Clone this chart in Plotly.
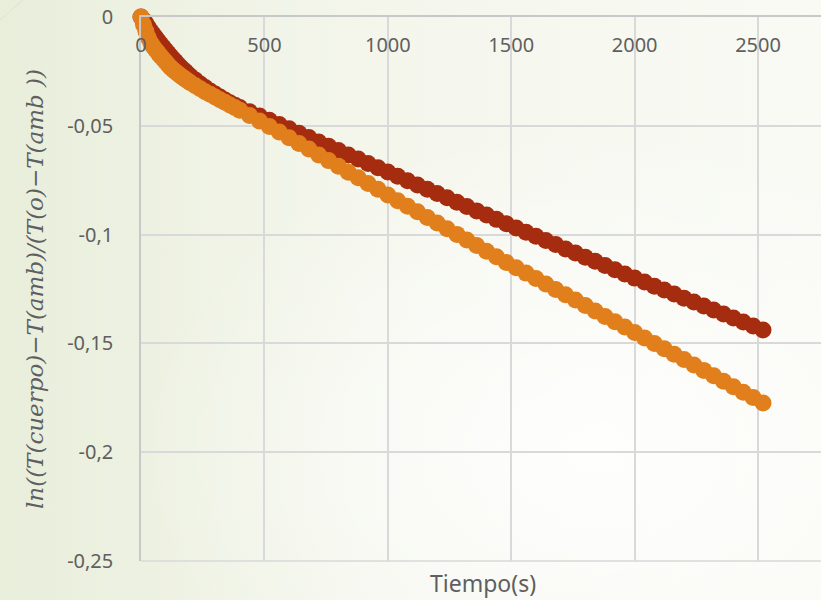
import base64
import plotly.graph_objects as go

# ---- data ----
tiempo = [0, 10, 20, 30, 40, 50, 60, 70, 80, 90, 100, 110, 120, 130, 140, 150, 160,
          170, 180, 190, 200, 220, 240, 260, 280, 300, 320, 340, 360, 380, 400, 440,
          480, 520, 560, 600, 640, 680, 720, 760, 800, 840, 880, 920, 960, 1000,
          1040, 1080, 1120, 1160, 1200, 1240, 1280, 1320, 1360, 1400, 1440, 1480,
          1520, 1560, 1600, 1640, 1680, 1720, 1760, 1800, 1840, 1880, 1920, 1960,
          2000, 2040, 2080, 2120, 2160, 2200, 2240, 2280, 2320, 2360, 2400, 2440,
          2480, 2520]

serie_oscura = [0, -0.0015, -0.0030, -0.0048, -0.0065, -0.0080, -0.0095, -0.0110,
                -0.0125, -0.0139, -0.0153, -0.0167, -0.0180, -0.0193, -0.0205,
                -0.0218, -0.0230, -0.0241, -0.0251, -0.0262, -0.0272, -0.0290,
                -0.0308, -0.0324, -0.0340, -0.0354, -0.0368, -0.0381, -0.0394,
                -0.0405, -0.0416, -0.0436, -0.0455, -0.0474, -0.0494, -0.0514,
                -0.0534, -0.0554, -0.0574, -0.0594, -0.0614, -0.0634, -0.0653,
                -0.0673, -0.0693, -0.0712, -0.0732, -0.0752, -0.0772, -0.0792,
                -0.0811, -0.0831, -0.0851, -0.0871, -0.0891, -0.0910, -0.0930,
                -0.0950, -0.0970, -0.0989, -0.1008, -0.1027, -0.1046, -0.1066,
                -0.1085, -0.1104, -0.1123, -0.1142, -0.1162, -0.1181, -0.1200,
                -0.1218, -0.1237, -0.1255, -0.1273, -0.1292, -0.1310, -0.1328,
                -0.1347, -0.1365, -0.1383, -0.1402, -0.1420, -0.1438]

serie_naranja = [0, -0.0035, -0.0065, -0.0095, -0.0120, -0.0137, -0.0152, -0.0166,
                 -0.0180, -0.0193, -0.0206, -0.0219, -0.0232, -0.0242, -0.0252,
                 -0.0261, -0.0270, -0.0278, -0.0286, -0.0294, -0.0302, -0.0316,
                 -0.0330, -0.0343, -0.0355, -0.0368, -0.0380, -0.0392, -0.0404,
                 -0.0416, -0.0428, -0.0453, -0.0478, -0.0503, -0.0529, -0.0555,
                 -0.0581, -0.0607, -0.0634, -0.0660, -0.0686, -0.0713, -0.0739,
                 -0.0765, -0.0792, -0.0818, -0.0844, -0.0870, -0.0895, -0.0921,
                 -0.0947, -0.0973, -0.0999, -0.1025, -0.1050, -0.1076, -0.1102,
                 -0.1128, -0.1152, -0.1177, -0.1202, -0.1227, -0.1252, -0.1276,
                 -0.1301, -0.1326, -0.1351, -0.1376, -0.1400, -0.1425, -0.1450,
                 -0.1475, -0.1500, -0.1525, -0.1550, -0.1574, -0.1599, -0.1624,
                 -0.1649, -0.1674, -0.1699, -0.1724, -0.1749, -0.1774]

x_ticks = [0, 500, 1000, 1500, 2000, 2500]
x_tick_labels = ["0", "500", "1000", "1500", "2000", "2500"]
y_ticks = [0, -0.05, -0.1, -0.15, -0.2, -0.25]
y_tick_labels = ["0", "-0,05", "-0,1", "-0,15", "-0,2", "-0,25"]

x_title = "Tiempo(s)"
y_title = "<i>ln((T(cuerpo)−T(amb)/(T(o)−T(amb ))</i>"

# ---- background (soft green gradient) ----
svg = """<svg xmlns='http://www.w3.org/2000/svg' width='821' height='600' viewBox='0 0 821 600'>
<defs>
<linearGradient id='g' x1='0' y1='0' x2='1' y2='0'>
<stop offset='0' stop-color='#e9eedb'/>
<stop offset='0.45' stop-color='#f4f6ec'/>
<stop offset='1' stop-color='#f9faf4'/>
</linearGradient>
<radialGradient id='r' cx='0.72' cy='0.75' r='0.55'>
<stop offset='0' stop-color='#ffffff' stop-opacity='0.9'/>
<stop offset='1' stop-color='#ffffff' stop-opacity='0'/>
</radialGradient>
</defs>
<rect width='821' height='600' fill='url(#g)'/>
<rect width='821' height='600' fill='url(#r)'/>
<line x1='0' y1='20' x2='23' y2='0' stroke='#dde2d0' stroke-width='1'/>
</svg>"""
bg_uri = "data:image/svg+xml;base64," + base64.b64encode(svg.encode()).decode()

fig = go.Figure()
fig.add_trace(go.Scatter(
    x=tiempo, y=serie_oscura, mode="markers", cliponaxis=False,
    marker=dict(size=17, color="#a52c0f", line=dict(width=0)),
    showlegend=False, hoverinfo="x+y"))
fig.add_trace(go.Scatter(
    x=tiempo, y=serie_naranja, mode="markers", cliponaxis=False,
    marker=dict(size=17, color="#e07f1b", line=dict(width=0)),
    showlegend=False, hoverinfo="x+y"))

tick_font = dict(family="'Noto Sans', 'Open Sans', sans-serif", size=20, color="#5f5f5f")

fig.update_layout(
    width=821, height=600,
    margin=dict(l=141, r=0, t=17, b=39, pad=0),
    paper_bgcolor="#f4f6ee",
    plot_bgcolor="rgba(0,0,0,0)",
    images=[dict(source=bg_uri, xref="paper", yref="paper", x=-141 / 680, y=1 + 17 / 544,
                 sizex=821 / 680, sizey=600 / 544, sizing="stretch",
                 xanchor="left", yanchor="top", layer="below")],
    xaxis=dict(
        range=[0, 2755], side="top", tickvals=x_ticks, ticktext=x_tick_labels,
        ticklabelposition="inside", ticklabelstandoff=22, ticklabeloverflow="allow",
        ticks="",
        showgrid=True, gridcolor="#d9d9d9", gridwidth=1.5,
        showline=True, linecolor="#c8c8c8", linewidth=1.5,
        zeroline=False, tickfont=tick_font,
    ),
    yaxis=dict(
        range=[-0.25, 0], tickvals=y_ticks, ticktext=y_tick_labels,
        ticks="", ticklabelstandoff=22, ticklabeloverflow="allow",
        showgrid=True, gridcolor="#d9d9d9", gridwidth=1.5,
        showline=True, linecolor="#c8c8c8", linewidth=1.5, mirror=False,
        zeroline=False, tickfont=tick_font,
    ),
    annotations=[
        dict(text=x_title, xref="paper", yref="paper", x=(483 - 141) / 680, y=0,
             xanchor="center", yanchor="top", yshift=-4, showarrow=False,
             font=dict(family="'Noto Sans', 'Open Sans', sans-serif", size=23, color="#5f5f5f")),
        dict(text=y_title, xref="paper", yref="paper", x=(35 - 141) / 680, y=0.5,
             xanchor="center", yanchor="middle", textangle=-90, showarrow=False,
             font=dict(family="'DejaVu Serif', 'Liberation Serif', serif", size=23, color="#5f5f5f")),
    ],
    shapes=[dict(type="line", xref="paper", yref="paper", x0=0, x1=1, y0=0, y1=0,
                 line=dict(color="#d9d9d9", width=1.5))],
)

fig.write_html("out.html", config={"displayModeBar": False},
               post_script="document.body.style.margin='0';document.body.style.padding='0';"
                           "document.documentElement.style.overflow='hidden';")
